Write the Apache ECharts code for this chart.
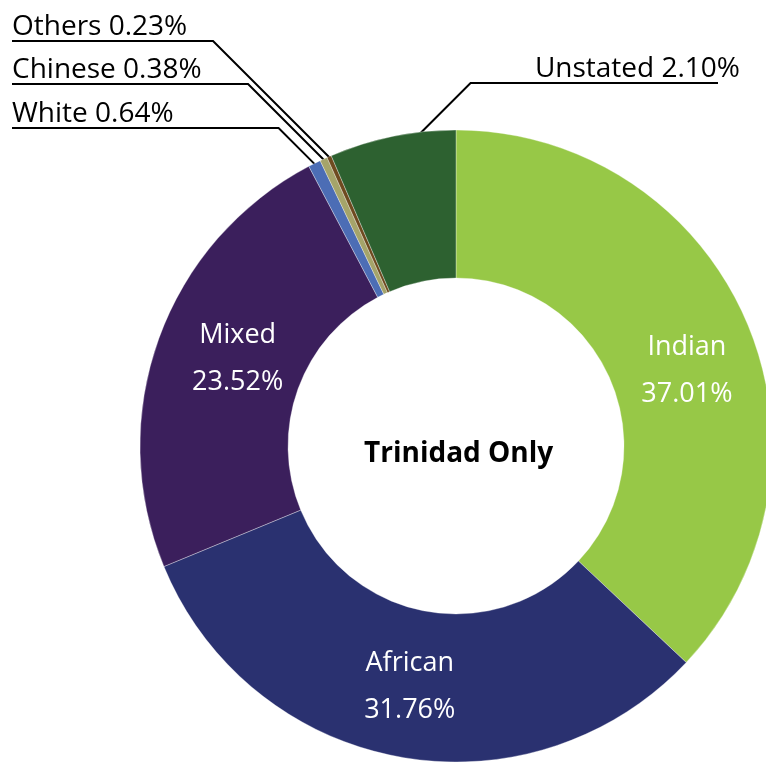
<!DOCTYPE html>
<html><head><meta charset="utf-8">
<script src="https://cdn.jsdelivr.net/npm/echarts@6/dist/echarts.min.js"></script>
<style>html,body{margin:0;padding:0;background:#ffffff}#c{width:766px;height:762px}</style>
</head><body><div id="c"></div>
<script>
// ---- data ----
const categories = ['Indian', 'African', 'Mixed', 'White', 'Chinese', 'Others', 'Unstated'];
// share of the ring each slice occupies
const sliceShares = [37.01, 31.76, 23.52, 0.64, 0.38, 0.23, 6.46];
// percentages printed on the chart
const statedPercents = ['37.01%', '31.76%', '23.52%', '0.64%', '0.38%', '0.23%', '2.10%'];
const centerTitle = 'Trinidad Only';

// ---- styles ----
const colors = ['#97c847', '#2a3170', '#3b1f5c', '#4c6db5', '#a5a46a', '#6e4a1f', '#2d6130'];
const FONT = '"Open Sans", "Noto Sans", sans-serif';
const CX = 456, CY = 446, R_IN = 168, R_OUT = 316;
const insideOffsets = { 0: [6, 22], 1: [-2, 0], 2: [12, -4] };
const outside = {
  3: { lineY: 128, side: 'left', frac: 0.5, r: R_OUT - 1 },
  4: { lineY: 84, side: 'left', frac: 0.5, r: R_OUT - 1 },
  5: { lineY: 41, side: 'left', frac: 0.5, r: R_OUT - 1 },
  6: { lineY: 83, side: 'right', frac: 0.64, r: R_OUT - 9 }
};
const LEFT_X = 12, RIGHT_TEXT_X = 740, RIGHT_LINE_X = 718;

const total = sliceShares.reduce((a, b) => a + b, 0);
function anchor(i, frac, r) {
  let before = 0;
  for (let k = 0; k < i; k++) before += sliceShares[k];
  const ang = (before + sliceShares[i] * frac) / total * Math.PI * 2;
  return [CX + r * Math.sin(ang), CY - r * Math.cos(ang)];
}

const data = categories.map((name, i) => {
  const inside = insideOffsets[i] != null;
  return {
    name: name,
    value: sliceShares[i],
    itemStyle: { color: colors[i] },
    label: inside ? {
      position: 'inside',
      offset: insideOffsets[i],
      formatter: name + '\n' + statedPercents[i],
      color: '#ffffff',
      fontSize: 27,
      lineHeight: 47,
      fontFamily: FONT
    } : {
      position: 'outside',
      formatter: name + ' ' + statedPercents[i],
      color: '#000000',
      fontSize: 28,
      lineHeight: 32,
      fontFamily: FONT
    },
    labelLine: { show: !inside, lineStyle: { color: '#000', width: 2 } }
  };
});

const chart = echarts.init(document.getElementById('c'), null, { renderer: 'canvas' });
chart.setOption({
  backgroundColor: '#ffffff',
  animation: false,
  graphic: [{
    type: 'text',
    left: CX - 92, top: CY - 6,
    style: {
      text: centerTitle, x: 100, y: 20, align: 'center', verticalAlign: 'middle',
      font: 'bold 28px ' + FONT, fill: '#000'
    }
  }],
  series: [{
    type: 'pie',
    center: [CX, CY],
    radius: [R_IN, R_OUT],
    startAngle: 90,
    clockwise: true,
    avoidLabelOverlap: false,
    itemStyle: { borderColor: 'rgba(255,255,255,0.55)', borderWidth: 0.6 },
    labelLine: { length: 10, length2: 10 },
    labelLayout: function (params) {
      const cfg = outside[params.dataIndex];
      if (!cfg) return {};
      const a = anchor(params.dataIndex, cfg.frac, cfg.r);
      const d = a[1] - cfg.lineY;
      if (cfg.side === 'left') {
        const elbow = [a[0] - d, cfg.lineY];
        return {
          x: LEFT_X, y: cfg.lineY + 2, align: 'left', verticalAlign: 'bottom',
          labelLinePoints: [a, elbow, [LEFT_X, cfg.lineY]]
        };
      } else {
        const elbow = [a[0] + d, cfg.lineY];
        return {
          x: RIGHT_TEXT_X, y: cfg.lineY + 2, align: 'right', verticalAlign: 'bottom',
          labelLinePoints: [a, elbow, [RIGHT_LINE_X, cfg.lineY]]
        };
      }
    },
    data: data
  }]
});
</script>
</body></html>
